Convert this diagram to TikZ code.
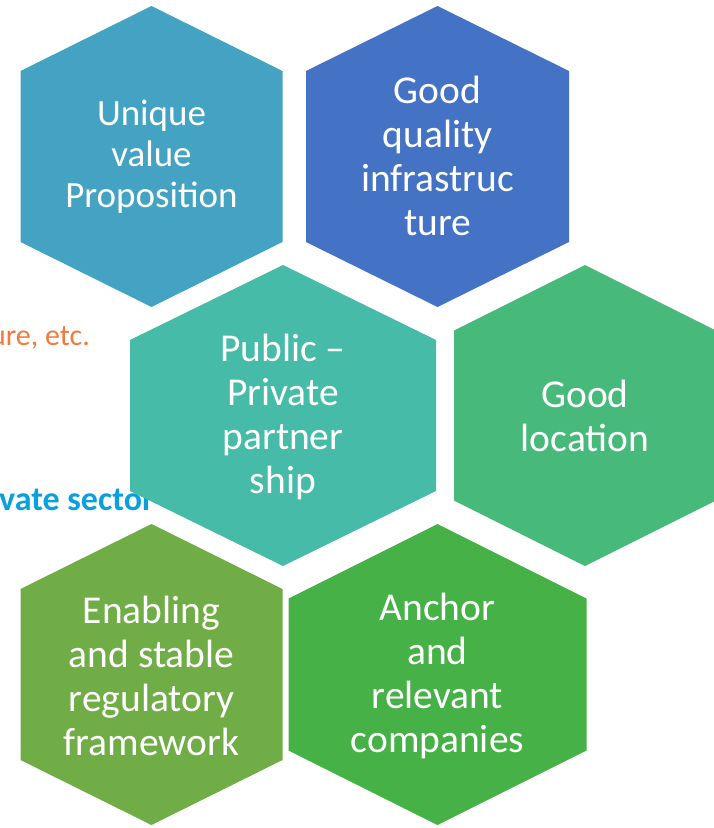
\documentclass[tikz,border=0pt]{standalone}
\usepackage{fontspec}
\setmainfont{Carlito}
\definecolor{hexA}{HTML}{44A3C2}
\definecolor{hexB}{HTML}{4472C4}
\definecolor{hexC}{HTML}{45BBA8}
\definecolor{hexD}{HTML}{47B97A}
\definecolor{hexE}{HTML}{70AD47}
\definecolor{hexF}{HTML}{46B147}
\definecolor{bgorange}{HTML}{F07B3F}
\definecolor{bgblue}{HTML}{0AA0E0}
\newcommand{\hexshape}[5]{%
  \fill[#5] (#1,#2) ++(0,-150.5) -- ++(-#3,{150.5-#4}) -- ++(0,{2*#4}) -- ++(#3,{150.5-#4})
     -- ++(#3,{-(150.5-#4)}) -- ++(0,{-2*#4}) -- cycle;}
\tikzset{
  hextext/.style={text=white, align=center, font=\fontsize{39.5}{44}\selectfont, inner sep=0pt},
  bgtext/.style={inner sep=0pt, font=\fontsize{30}{34}\selectfont},
}
\begin{document}
\begin{tikzpicture}[x=1pt, y=-1pt]
\clip (0,0) rectangle (714,828);
\fill[white] (0,0) rectangle (714,828);
% background texts partly hidden
\node[bgtext, text=bgorange, anchor=base east] (etc) at (90,345.5) {ure, etc.};
\node[bgtext, text=bgblue, anchor=base west, font=\fontsize{34}{40}\selectfont\bfseries] (priv) at (-1,510) {vate sector};
% hexagons
\hexshape{151.5}{156.5}{131}{85.5}{hexA}
\hexshape{437.5}{156.5}{131.5}{85.5}{hexB}
\hexshape{283}{415.5}{153}{75.5}{hexC}
\hexshape{585}{415.5}{131}{85}{hexD}
\hexshape{151.5}{674.5}{131}{85.5}{hexE}
\hexshape{437.5}{674.5}{149}{76}{hexF}
% labels
\node[hextext, font=\fontsize{37}{41}\selectfont] (uvp) at (151.5,157) {Unique\\value\\Proposition};
\node[hextext] (infra) at (437.5,156) {Good\\quality\\infrastruc\\ture};
\node[hextext] (ppp) at (283,417) {Public --\\Private\\partner\\ship};
\node[hextext] (loc) at (585,415.5) {Good\\location};
\node[hextext] (reg) at (151.5,675.5) {Enabling\\and stable\\regulatory\\framework};
\node[hextext] (anchor) at (437.5,675.5) {Anchor\\and\\relevant\\companies};
\end{tikzpicture}
\end{document}
